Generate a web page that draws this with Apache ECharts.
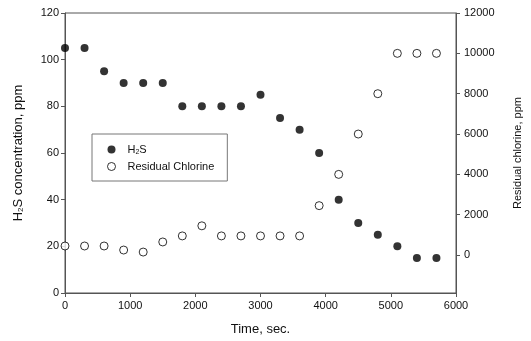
<!DOCTYPE html>
<html>
<head>
<meta charset="utf-8">
<script src="https://cdn.jsdelivr.net/npm/echarts@6/dist/echarts.min.js"></script>
<style>
  html, body { margin: 0; padding: 0; background: #fff; }
  #chart { width: 531px; height: 341px; }
</style>
</head>
<body>
<div id="chart"></div>
<script>
const times = [0, 300, 600, 900, 1200, 1500, 1800, 2100, 2400, 2700, 3000, 3300, 3600, 3900, 4200, 4500, 4800, 5100, 5400, 5700];
const h2s = [105, 105, 95, 90, 90, 90, 80, 80, 80, 80, 85, 75, 70, 60, 40, 30, 25, 20, 15, 15];
const chlorine = [450, 450, 450, 250, 150, 650, 950, 1450, 950, 950, 950, 950, 950, 2450, 4000, 6000, 8000, 10000, 10000, 10000];
const rightTicks = [0, 2000, 4000, 6000, 8000, 10000, 12000];

const chart = echarts.init(document.getElementById("chart"));
const font = "Liberation Sans, Arial, sans-serif";
const axisColor = "#555";
const plain = (v) => String(v);

chart.setOption({
  animation: false,
  textStyle: { fontFamily: font },
  grid: {
    left: 65,
    right: 66,
    top: 13,
    bottom: 48,
    show: true,
    borderColor: axisColor,
    borderWidth: 1,
  },
  legend: {
    orient: "vertical",
    left: 92,
    top: 134,
    padding: [10, 13, 9, 15],
    itemGap: 5,
    itemWidth: 8,
    itemHeight: 8,
    borderColor: "#777",
    borderWidth: 1,
    textStyle: {
      fontSize: 11,
      color: "#111",
      padding: [0, 0, 0, 7],
      rich: {
        n: { fontSize: 11, color: "#111" },
        sub: { fontSize: 7, color: "#111", verticalAlign: "bottom", padding: [6, 0, 0, 0] },
      },
    },
    formatter: (name) => (name === "H2S" ? "{n|H}{sub|2}{n|S}" : name),
    data: [
      { name: "H2S" },
      { name: "Residual Chlorine", itemStyle: { color: "#fff", borderColor: "#000", borderWidth: 1 } },
    ],
  },
  xAxis: {
    type: "value",
    min: 0,
    max: 6000,
    interval: 1000,
    name: "Time, sec.",
    nameLocation: "middle",
    nameGap: 30,
    nameTextStyle: { fontSize: 13, color: "#111" },
    axisLine: { lineStyle: { color: axisColor } },
    axisTick: { length: 4, lineStyle: { color: axisColor } },
    axisLabel: { fontSize: 11, color: "#111", margin: 7, formatter: plain },
    splitLine: { show: false },
  },
  yAxis: [
    {
      type: "value",
      min: 0,
      max: 120,
      interval: 20,
      name: "{n|H}{sub|2}{n|S concentration, ppm}",
      nameLocation: "middle",
      nameRotate: 90,
      nameGap: 40,
      nameTextStyle: {
        rich: {
          n: { fontSize: 13, color: "#111" },
          sub: { fontSize: 8, color: "#111", verticalAlign: "bottom", padding: [6, 0, 0, 0] },
        },
      },
      axisLine: { show: true, lineStyle: { color: axisColor } },
      axisTick: { show: true, length: 4, lineStyle: { color: axisColor } },
      axisLabel: { fontSize: 11, color: "#111", margin: 6, formatter: plain },
      splitLine: { show: false },
    },
    {
      type: "value",
      position: "right",
      min: -1880,
      max: 12000,
      name: "Residual chlorine, ppm",
      nameLocation: "middle",
      nameRotate: 90,
      nameGap: 56,
      nameTextStyle: { fontSize: 11, color: "#111" },
      axisLine: { show: true, lineStyle: { color: axisColor } },
      axisTick: { show: true, length: 4, customValues: rightTicks, lineStyle: { color: axisColor } },
      axisLabel: { fontSize: 11, color: "#111", margin: 8, customValues: rightTicks, formatter: plain },
      splitLine: { show: false },
    },
  ],
  series: [
    {
      name: "H2S",
      type: "scatter",
      yAxisIndex: 0,
      symbol: "circle",
      symbolSize: 8,
      itemStyle: { color: "#000" },
      data: times.map((t, i) => [t, h2s[i]]),
    },
    {
      name: "Residual Chlorine",
      type: "scatter",
      yAxisIndex: 1,
      symbol: "circle",
      symbolSize: 8,
      itemStyle: { color: "#fff", borderColor: "#000", borderWidth: 1 },
      data: times.map((t, i) => [t, chlorine[i]]),
    },
  ],
});
</script>
</body>
</html>
